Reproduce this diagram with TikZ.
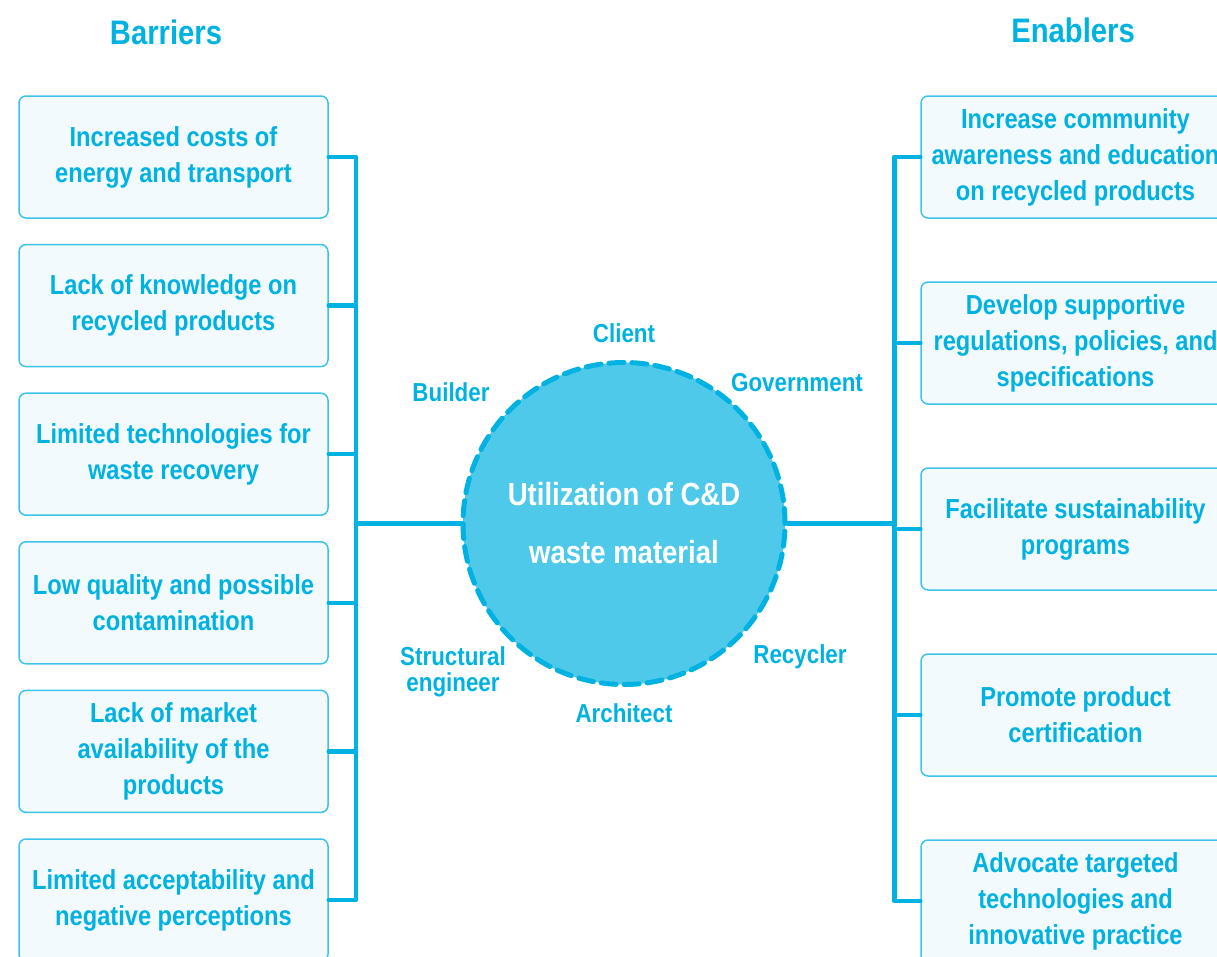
\documentclass[tikz,border=0pt]{standalone}
\usepackage{fontspec}
\setmainfont{Liberation Sans}[FakeStretch=0.86]
\usetikzlibrary{positioning}
\definecolor{cdcyan}{HTML}{00B2E2}
\definecolor{cdline}{HTML}{3CC3EA}
\definecolor{cdpale}{HTML}{F2FAFD}
\definecolor{cdhub}{HTML}{4FC9EA}
\begin{document}
\begin{tikzpicture}[x=1pt, y=-1pt, font=\bfseries, line join=round, line cap=round,
	barrier/.style={draw=cdline, line width=1.5pt, fill=cdpale, rounded corners=7pt, minimum width=309pt, minimum height=122pt, align=center, text=cdcyan, font=\bfseries\fontsize{27.5}{36}\selectfont},
	link/.style={draw=cdcyan, line width=4.5pt},
	hub/.style={circle, draw=cdcyan, fill=cdhub, line width=5pt, dash pattern=on 15pt off 8pt, minimum size=322pt, align=center, text=white, font=\bfseries\fontsize{32}{58}\selectfont},
	actor/.style={text=cdcyan, align=center, font=\bfseries\fontsize{26}{26}\selectfont},
	heading/.style={text=cdcyan, font=\bfseries\fontsize{34}{40}\selectfont}]
		\def\lx{173.5} \def\rx{1075.5}
		\def\ldy{148.6} \def\rdy{186}
		\useasboundingbox (0,0) rectangle (1217,956);
		\clip (0,0) rectangle (1217,956);
		% headings
		\node[heading] (barriers) at (166,32) {Barriers};
		\node[heading] (enablers) at (1073,30) {Enablers};
		% barriers
		\foreach \i/\t in {1/{Increased costs of\\energy and transport}, 2/{Lack of knowledge on\\recycled products}, 3/{Limited technologies for\\waste recovery}, 4/{Low quality and possible\\contamination}, 5/{Lack of market\\availability of the\\products}, 6/{Limited acceptability and\\negative perceptions}}
			\node[barrier] (b\i) at (\lx,{157+\ldy*(\i-1)}) {\t};
		% enablers
		\foreach \i/\t in {1/{Increase community\\awareness and education\\on recycled products}, 2/{Develop supportive\\regulations, policies, and\\specifications}, 3/{Facilitate sustainability\\programs}, 4/{Promote product\\certification}, 5/{Advocate targeted\\technologies and\\innovative practice}}
			\node[barrier] (e\i) at (\rx,{157+\rdy*(\i-1)}) {\t};
		% hub
		\node[hub] (hub) at (624,523.5) {Utilization of C\&D\\waste material};
		\node[actor] (client) at (624,333) {Client};
		\node[actor] (government) at (797,383) {Government};
		\node[actor] (builder) at (451,392) {Builder};
		\node[actor] (recycler) at (800,657) {Recycler};
		\node[actor] (architect) at (624,713) {Architect};
		\node[actor] (structural) at (453,672) {Structural\\engineer};
		% connectors
		\draw[link] (b1.east) -- ++(27,0) coordinate (ltop) |- (b6.east);
		\foreach \i in {2,...,5} \draw[link] (b\i.east) -- (b\i.east -| ltop);
		\draw[link] (hub.west) -- (hub.west -| ltop);
		\draw[link] (e1.west) -- ++(-26,0) coordinate (rtop) |- (e5.west);
		\foreach \i in {2,...,4} \draw[link] (e\i.west) -- (e\i.west -| rtop);
		\draw[link] (hub.east) -- (hub.east -| rtop);
		\end{tikzpicture}
\end{document}
